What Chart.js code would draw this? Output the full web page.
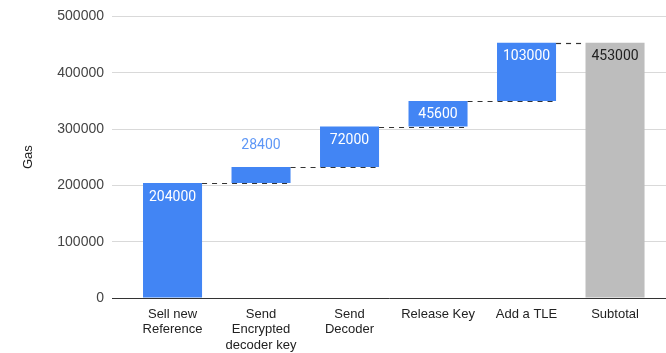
<!DOCTYPE html>
<html>
<head>
<meta charset="utf-8">
<script src="https://cdn.jsdelivr.net/npm/chart.js@4/dist/chart.umd.min.js"></script>
<style>
  html, body { margin: 0; padding: 0; background: #fff; }
  #wrap { width: 666px; height: 353px; position: relative; }
</style>
</head>
<body>
<div id="wrap"><canvas id="c"></canvas></div>
<script>
// Gas cost per step, plus the final subtotal column
const categories = [
  ['Sell new', 'Reference'],
  ['Send', 'Encrypted', 'decoder key'],
  ['Send', 'Decoder'],
  'Release Key',
  'Add a TLE',
  'Subtotal'
];
const stepValues = [204000, 28400, 72000, 45600, 103000];
const subtotalValue = 453000;
const yTicks = [0, 100000, 200000, 300000, 400000, 500000];

const BLUE = '#4285f4';
const GREY = '#bdbdbd';

// Floating bars: each step starts where the running total left off
const bars = [];
const starts = [];
let running = 0;
stepValues.forEach((v, i) => {
  starts.push(running);
  bars.push({ x: i, y: [running, running + v] });
  running += v;
});
bars.push({ x: stepValues.length, y: [0, subtotalValue] });
const labelValues = stepValues.concat([subtotalValue]);
const colors = stepValues.map(() => BLUE).concat([GREY]);

// Dashed connectors between steps and value labels on each bar
const waterfallDecor = {
  id: 'waterfallDecor',
  afterDatasetsDraw(chart) {
    const ctx = chart.ctx;
    const meta = chart.getDatasetMeta(0);
    const y = chart.scales.y;
    const els = meta.data;

    ctx.save();
    ctx.strokeStyle = '#333';
    ctx.lineWidth = 1.2;
    ctx.setLineDash([5, 5]);
    for (let i = 1; i < els.length; i++) {
      const prev = els[i - 1];
      const cur = els[i];
      const level = i < stepValues.length ? starts[i] : subtotalValue;
      const py = Math.round(y.getPixelForValue(level)) + 0.5;
      const x0 = prev.x + prev.width / 2;
      const x1 = i < stepValues.length ? cur.x + cur.width / 2 : cur.x - cur.width / 2;
      ctx.beginPath();
      ctx.moveTo(x0, py);
      ctx.lineTo(x1, py);
      ctx.stroke();
    }
    ctx.restore();

    ctx.save();
    ctx.font = '14px Roboto, "Liberation Sans", Arial, sans-serif';
    ctx.textAlign = 'center';
    ctx.textBaseline = 'middle';
    els.forEach((el, i) => {
      const top = Math.min(el.y, el.base);
      const h = Math.abs(el.base - el.y);
      const isTotal = i === els.length - 1;
      const txt = String(labelValues[i]);
      if (h >= 22) {
        ctx.fillStyle = isTotal ? '#222' : '#ffffff';
        ctx.fillText(txt, el.x, top + 14);
      } else {
        ctx.fillStyle = '#5e97f6';
        ctx.fillText(txt, el.x, top - 22);
      }
    });
    ctx.restore();
  }
};

new Chart(document.getElementById('c'), {
  type: 'bar',
  data: {
    datasets: [{
      data: bars,
      backgroundColor: colors,
      borderWidth: 0,
      barPercentage: 1,
      categoryPercentage: 0.667
    }]
  },
  options: {
    responsive: true,
    maintainAspectRatio: false,
    animation: false,
    layout: { padding: { left: 21, right: 0, top: 8, bottom: 0 } },
    plugins: {
      legend: { display: false },
      tooltip: { enabled: false }
    },
    scales: {
      x: {
        type: 'linear',
        offset: false,
        min: -0.684,
        max: 5.576,
        afterBuildTicks(scale) {
          scale.ticks = categories.map((_, i) => ({ value: i }));
        },
        afterFit(scale) { scale.height = 55; },
        grid: { display: false, drawTicks: false, offset: false },
        border: { display: true, color: '#333', width: 1 },
        ticks: {
          autoSkip: false,
          maxRotation: 0,
          padding: 8,
          color: '#222',
          font: { family: '"Liberation Sans", Arial, sans-serif', size: 13, lineHeight: 1.22 },
          callback: (v) => categories[v]
        }
      },
      y: {
        min: 0,
        max: 500000,
        afterBuildTicks(scale) {
          scale.ticks = yTicks.map(v => ({ value: v }));
        },
        afterFit(scale) { scale.width = 91; },
        grid: { color: '#d9d9d9', drawTicks: false },
        border: { display: false },
        ticks: {
          padding: 8,
          color: '#444',
          font: { family: '"Liberation Sans", Arial, sans-serif', size: 14 },
          callback: (v) => String(v)
        },
        title: {
          display: true,
          text: 'Gas',
          color: '#222',
          padding: 0,
          font: { family: '"Liberation Sans", Arial, sans-serif', size: 13 }
        }
      }
    }
  },
  plugins: [waterfallDecor]
});
</script>
</body>
</html>
